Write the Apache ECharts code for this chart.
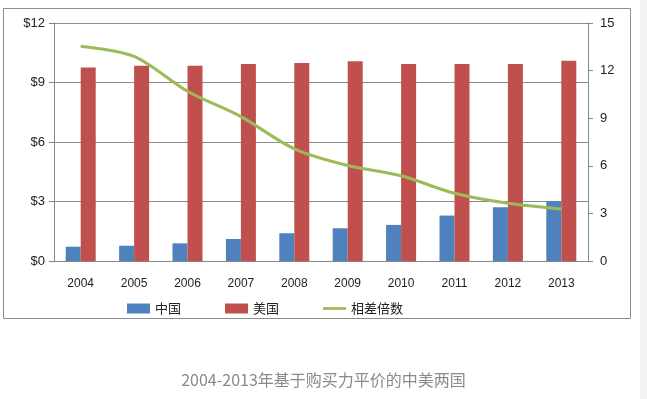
<!DOCTYPE html>
<html>
<head>
<meta charset="UTF-8">
<script src="https://cdn.jsdelivr.net/npm/echarts@6/dist/echarts.min.js"></script>
<style>
body { margin:0; padding:0; background:#fff; }
#chart { width:647px; height:399px; }
</style>
</head>
<body><div id="chart"></div>
<script>
// 年份
const years = ['2004', '2005', '2006', '2007', '2008', '2009', '2010', '2011', '2012', '2013'];
// 人均值（美元，购买力平价）
const china = [0.72, 0.77, 0.89, 1.11, 1.40, 1.65, 1.82, 2.29, 2.71, 3.01];
const usa = [9.76, 9.85, 9.85, 9.93, 9.98, 10.07, 9.93, 9.93, 9.93, 10.10];
// 相差倍数（右轴）
const ratio = [13.54, 12.9, 10.7, 9.1, 7.07, 6.02, 5.37, 4.27, 3.64, 3.28];
const leftTicks = { min: 0, max: 12, interval: 3 };
const rightTicks = { min: 0, max: 15, interval: 3 };
const caption = '2004-2013年基于购买力平价的中美两国';

const font = '"Liberation Sans", "Noto Sans CJK SC", sans-serif';
const axisColor = '#868686';

const c = echarts.init(document.getElementById('chart'));
c.setOption({
  animation: false,
  textStyle: { fontFamily: font },
  graphic: [
    { type: 'rect', shape: { x: 3.5, y: 8.5, width: 627, height: 310 },
      style: { fill: 'none', stroke: '#8c8c8c', lineWidth: 1 }, z: -1 },
    { type: 'rect', shape: { x: 640, y: 0, width: 7, height: 399 },
      style: { fill: '#f3f3f3' }, z: -2 },
    { type: 'text', left: 'center', top: 372,
      style: { text: caption, fill: '#8a8a8a', font: '16px "Noto Sans CJK SC", sans-serif' } }
  ],
  grid: { left: 54, right: 59, top: 23, bottom: 138 },
  legend: {
    top: 297, left: 122, itemGap: 44, itemWidth: 23, itemHeight: 10,
    textStyle: { fontSize: 13, color: '#222', fontFamily: '"Noto Sans CJK SC", sans-serif' },
    data: [
      { name: '中国', icon: 'rect' },
      { name: '美国', icon: 'rect' },
      { name: '相差倍数', icon: 'path://M0,0 L100,0 L100,12 L0,12 Z' }
    ]
  },
  xAxis: {
    type: 'category', data: years,
    axisLine: { lineStyle: { color: axisColor } },
    axisTick: { length: 5, lineStyle: { color: axisColor } },
    axisLabel: { color: '#222', fontSize: 12, margin: 17 }
  },
  yAxis: [
    { type: 'value', ...leftTicks,
      axisLine: { show: true, lineStyle: { color: axisColor } },
      axisTick: { show: true, length: 5, lineStyle: { color: axisColor } },
      axisLabel: { color: '#222', fontSize: 13, margin: 9, formatter: v => '$' + v },
      splitLine: { lineStyle: { color: '#8c8c8c' } } },
    { type: 'value', ...rightTicks,
      axisLine: { show: true, lineStyle: { color: axisColor } },
      axisTick: { show: true, length: 5, lineStyle: { color: axisColor } },
      axisLabel: { color: '#222', fontSize: 13, margin: 12 },
      splitLine: { show: false } }
  ],
  series: [
    { name: '中国', type: 'bar', data: china, barWidth: 15, barGap: '0%',
      itemStyle: { color: '#4f81bd' } },
    { name: '美国', type: 'bar', data: usa, barWidth: 15, barGap: '0%',
      itemStyle: { color: '#c0504d' } },
    { name: '相差倍数', type: 'line', yAxisIndex: 1, data: ratio, smooth: 0.3,
      showSymbol: false, symbol: 'none',
      lineStyle: { color: '#9bbb59', width: 3 }, itemStyle: { color: '#9bbb59' } }
  ]
});
</script>
</body></html>
